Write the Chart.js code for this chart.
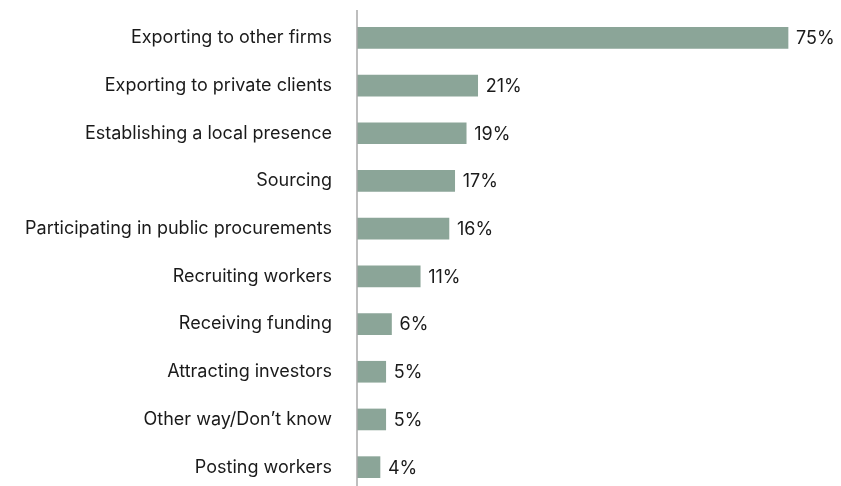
<!DOCTYPE html>
<html>
<head>
<meta charset="utf-8">
<script src="https://cdn.jsdelivr.net/npm/chart.js@4"></script>
<style>
  html, body { margin: 0; padding: 0; background: #fff; overflow: hidden; height: 486px; }
  canvas { display: block; }
</style>
</head>
<body>
<!-- a área do gráfico desce um pouco abaixo da borda visível -->
<canvas id="barChart" width="841" height="491"></canvas>
<script>
// Categorias e percentuais
const categories = [
  'Exporting to other firms',
  'Exporting to private clients',
  'Establishing a local presence',
  'Sourcing',
  'Participating in public procurements',
  'Recruiting workers',
  'Receiving funding',
  'Attracting investors',
  'Other way/Don\u2019t know',
  'Posting workers'
];
const shares = [75, 21, 19, 17, 16, 11, 6, 5, 5, 4];

const barColor = '#8ba598';
const fontFamily = 'Inter, "Noto Sans", sans-serif';

// rótulos de valor ao lado de cada barra
const valueLabels = {
  id: 'valueLabels',
  afterDatasetsDraw(chart) {
    const ctx = chart.ctx;
    const meta = chart.getDatasetMeta(0);
    ctx.save();
    ctx.font = '18px ' + fontFamily;
    ctx.fillStyle = '#1a1a1a';
    ctx.textAlign = 'left';
    ctx.textBaseline = 'middle';
    meta.data.forEach((bar, i) => {
      ctx.fillText(shares[i] + '%', bar.x + 8, bar.y + 1);
    });
    ctx.restore();
  }
};

// linha vertical do eixo, um pouco mais longa que a área do gráfico
const axisLine = {
  id: 'axisLine',
  afterDraw(chart) {
    const ctx = chart.ctx;
    const x = chart.chartArea.left;
    ctx.save();
    ctx.strokeStyle = '#a8a8a8';
    ctx.lineWidth = 1.5;
    ctx.beginPath();
    ctx.moveTo(x, 10);
    ctx.lineTo(x, 486);
    ctx.stroke();
    ctx.restore();
  }
};

new Chart(document.getElementById('barChart'), {
  type: 'bar',
  data: {
    labels: categories,
    datasets: [{
      data: shares,
      backgroundColor: barColor,
      barThickness: 21
    }]
  },
  options: {
    indexAxis: 'y',
    responsive: false,
    animation: false,
    layout: { padding: { top: 14, right: 7, bottom: 0, left: 0 }, autoPadding: false },
    plugins: {
      legend: { display: false },
      tooltip: { enabled: false }
    },
    scales: {
      x: {
        display: false,
        min: 0,
        max: 83
      },
      y: {
        grid: { display: false, drawTicks: false },
        border: { display: false },
        ticks: {
          color: '#1a1a1a',
          padding: 25,
          font: { family: fontFamily, size: 18 }
        },
        afterFit(scale) {
          scale.width = 357;
          scale.paddingTop = 0;
          scale.paddingBottom = 0;
        }
      }
    }
  },
  plugins: [valueLabels, axisLine]
});
</script>
</body>
</html>
